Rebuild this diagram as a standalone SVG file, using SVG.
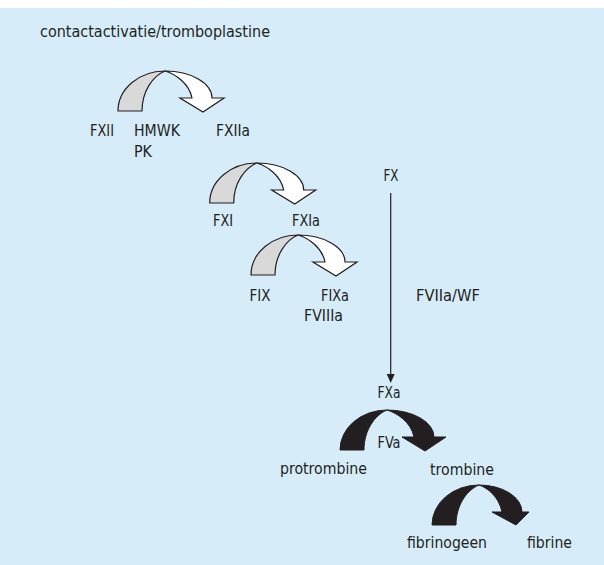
<svg xmlns="http://www.w3.org/2000/svg" width="604" height="565" viewBox="0 0 604 565">
<style>
text{font-family:"DejaVu Sans Condensed","DejaVu Sans",sans-serif;font-size:16.5px;fill:#231f20;}
.g{fill:#d9d9d9;stroke:#231f20;stroke-width:1.2;stroke-linejoin:round;}
.w{fill:#ffffff;stroke:#231f20;stroke-width:1.2;stroke-linejoin:miter;}
.b{fill:#231f20;stroke:#231f20;stroke-width:1;}
</style>
<defs>
<path id="left" d="M-47,40 A47,40 0 0 1 0,0 C-12,5 -23,20 -23,40 Z"/>
<path id="right" d="M0,0 A47,27 0 0 1 47,27 L59,27 L38,41 L15,27 L27,27 C24,12 10,3 0,0 Z"/>
<path id="right2" d="M0,0 A43,27 0 0 1 43,27 L50,27 L37,40 L13,27 L23,27 C20,12 9,3 0,0 Z"/>
</defs>
<rect x="0" y="8" width="604" height="557" fill="#d6ecf9"/>
<text x="40" y="37" textLength="230" lengthAdjust="spacingAndGlyphs">contactactivatie/tromboplastine</text>
<g id="connectors">
<line x1="390.7" y1="193" x2="390.7" y2="376" stroke="#231f20" stroke-width="1.2"/>
<path d="M386.7,374 L394.7,374 L390.7,383 Z" fill="#231f20"/>
</g>
<g id="arrow-fxii" transform="translate(165,71)">
<use href="#left" class="g"/><use href="#right" class="w"/>
</g>
<g id="arrow-fxi" transform="translate(256.7,163)">
<use href="#left" class="g"/><use href="#right" class="w"/>
</g>
<g id="arrow-fix" transform="translate(298,235)">
<use href="#left" class="g"/><use href="#right" class="w"/>
</g>
<g id="arrow-protrombine" transform="translate(387,410)">
<use href="#left" class="b"/><use href="#right" class="b"/>
</g>
<g id="arrow-fibrinogeen" transform="translate(479,485)">
<use href="#left" class="b"/><use href="#right2" class="b"/>
</g>
<g id="node-fxii"><text x="90" y="136" textLength="24" lengthAdjust="spacingAndGlyphs">FXII</text></g>
<g id="node-hmwk"><text x="134" y="136" textLength="46" lengthAdjust="spacingAndGlyphs">HMWK</text>
<text x="134" y="157" textLength="18" lengthAdjust="spacingAndGlyphs">PK</text></g>
<g id="node-fxiia"><text x="216" y="136" textLength="34" lengthAdjust="spacingAndGlyphs">FXIIa</text></g>
<g id="node-fx"><text x="383.5" y="181" textLength="15" lengthAdjust="spacingAndGlyphs">FX</text></g>
<g id="node-fxi"><text x="213" y="226" textLength="20" lengthAdjust="spacingAndGlyphs">FXI</text></g>
<g id="node-fxia"><text x="292" y="226" textLength="28" lengthAdjust="spacingAndGlyphs">FXIa</text></g>
<g id="node-fix"><text x="249.5" y="301" textLength="21" lengthAdjust="spacingAndGlyphs">FIX</text></g>
<g id="node-fixa"><text x="321" y="301" textLength="28" lengthAdjust="spacingAndGlyphs">FIXa</text>
<text x="304" y="321" textLength="39" lengthAdjust="spacingAndGlyphs">FVIIIa</text></g>
<g id="node-fviia"><text x="416" y="301" textLength="64" lengthAdjust="spacingAndGlyphs">FVIIa/WF</text></g>
<g id="node-fxa"><text x="377.5" y="397.5" textLength="23" lengthAdjust="spacingAndGlyphs">FXa</text></g>
<g id="node-fva"><text x="377.5" y="447.5" textLength="23" lengthAdjust="spacingAndGlyphs">FVa</text></g>
<g id="node-protrombine"><text x="280" y="473.5" textLength="87" lengthAdjust="spacingAndGlyphs">protrombine</text></g>
<g id="node-trombine"><text x="430" y="474.5" textLength="64" lengthAdjust="spacingAndGlyphs">trombine</text></g>
<g id="node-fibrinogeen"><text x="407" y="548" textLength="80" lengthAdjust="spacingAndGlyphs">fibrinogeen</text></g>
<g id="node-fibrine"><text x="527" y="548" textLength="45" lengthAdjust="spacingAndGlyphs">fibrine</text></g>
</svg>
